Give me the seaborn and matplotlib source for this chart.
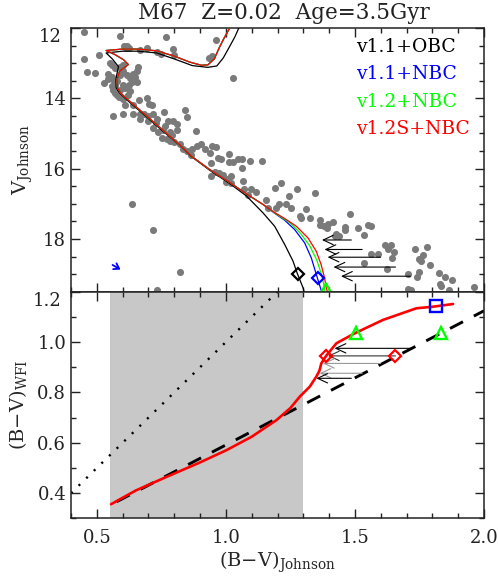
import matplotlib
matplotlib.use("Agg")
import matplotlib.pyplot as plt
import seaborn as sns
import numpy as np
import pandas as pd
from matplotlib.ticker import MultipleLocator, FuncFormatter

# ---------------- data ----------------
# M67 observed stars (B-V Johnson, V Johnson)
star_x = [0.452, 0.590, 0.767, 0.960, 0.449, 0.507, 0.461, 0.494, 0.528, 0.561, 1.028,
          0.607, 0.618, 0.612, 0.625, 0.696, 0.735, 0.748, 0.797, 0.799, 0.936, 0.945, 0.668,
          0.552, 0.588, 0.603, 0.590, 0.616, 0.629, 0.661, 0.655, 0.558, 0.545, 0.565, 0.580,
          0.558, 0.562, 0.571, 0.590, 0.610, 0.623, 0.635, 0.655, 0.577, 0.603, 0.610, 0.642,
          0.664, 0.696, 0.704, 0.713, 0.603, 0.642, 0.668, 0.683, 0.700, 0.719, 0.700, 0.668,
          0.732, 0.760, 0.777, 0.797, 0.809, 0.842, 0.848, 0.758, 0.784, 0.809, 0.884, 0.738,
          0.719, 0.751, 0.771, 0.784, 0.799, 0.822, 0.835, 0.848, 0.863, 0.887, 0.919, 0.938,
          0.945, 0.960, 1.013, 0.970, 1.048, 1.061,
          0.983, 1.013, 1.026, 1.093, 1.138, 1.063, 0.944, 0.941, 0.957, 0.973, 0.987, 1.005,
          1.018, 1.000, 1.018, 1.067, 1.069, 1.099, 1.116, 1.086, 1.157, 1.189, 1.212, 1.276,
          1.245, 1.206, 1.234, 1.163, 1.196, 1.346, 1.309, 1.251,
          0.635, 0.717, 0.822, 0.735,
          1.286, 1.292, 1.324, 1.363, 1.363, 1.380, 1.395, 1.415, 1.393, 1.482, 1.460, 1.462,
          1.511, 1.537, 1.550, 1.563, 1.427, 1.438, 1.421, 1.618, 1.640, 1.627, 1.653, 1.643,
          1.563, 1.588, 1.537, 1.625, 1.733, 1.778, 1.765, 1.750, 1.756, 1.792, 1.704, 1.750,
          1.741, 1.824, 1.849, 1.876, 1.831, 1.833, 1.866, 1.962, 1.704, 1.717,
          0.560, 0.572, 0.600, 0.640, 0.648, 0.570, 0.600, 0.628, 0.545, 0.585, 0.620,
          0.730, 0.765, 0.790, 0.870, 0.905]
star_V = [12.12, 12.24, 12.26, 12.35, 12.88, 12.76, 13.26, 13.29, 13.56, 14.49, 13.42,
          12.50, 12.50, 12.56, 12.56, 12.57, 12.69, 12.74, 12.59, 12.78, 12.85, 12.81, 12.62,
          13.00, 13.12, 13.21, 13.33, 13.33, 13.42, 13.12, 13.23, 13.40, 13.44, 13.52, 13.50,
          13.66, 13.75, 13.85, 13.75, 13.70, 13.61, 13.54, 13.54, 13.91, 14.01, 14.18, 14.18,
          14.04, 13.99, 14.16, 14.18, 14.46, 14.46, 14.46, 14.44, 14.51, 14.46, 14.65, 14.60,
          14.58, 14.39, 14.65, 14.65, 14.73, 14.32, 14.54, 14.89, 14.95, 14.89, 14.94, 14.95,
          14.84, 15.13, 15.17, 15.22, 15.24, 15.31, 15.43, 15.50, 15.60, 15.36, 15.43, 15.55,
          15.36, 15.38, 15.58, 15.69, 15.74, 15.74,
          15.72, 15.82, 15.82, 15.79, 15.79, 15.98, 15.85, 16.20, 16.10, 16.12, 16.17, 16.29,
          16.21, 16.39, 16.40, 16.36, 16.59, 16.58, 16.67, 16.74, 16.88, 16.55, 16.40, 16.58,
          16.78, 17.00, 17.02, 17.11, 17.11, 16.69, 17.14, 17.13,
          17.00, 17.76, 18.94, 19.46,
          17.35, 17.40, 17.40, 17.45, 17.61, 17.64, 17.57, 17.52, 17.70, 17.30, 17.66, 17.76,
          17.70, 17.89, 17.59, 17.64, 17.87, 17.93, 17.91, 18.16, 18.18, 18.30, 18.37, 18.54,
          18.42, 18.42, 18.68, 18.85, 18.30, 18.23, 18.46, 18.58, 18.63, 18.75, 19.01, 18.93,
          19.08, 18.96, 19.08, 19.18, 19.27, 19.34, 19.44, 19.37, 19.43, 19.46,
          13.05, 13.15, 13.05, 13.30, 13.40, 13.62, 13.62, 13.78, 13.30, 13.95, 13.92,
          14.70, 14.80, 15.05, 15.45, 15.30]

# Isochrones (B-V, V): shared bright part for NBC models
iso_upper_x = [1.144, 1.080, 1.016, 0.938, 0.867, 0.822, 0.758, 0.685, 0.622, 0.592, 0.580,
               0.578, 0.588, 0.622, 0.603, 0.571, 0.536, 0.600, 0.660, 0.732, 0.800, 0.860,
               0.905, 0.930, 0.955, 0.975, 0.990, 1.015, 1.020]
iso_upper_V = [17.02, 16.72, 16.40, 16.03, 15.65, 15.33, 14.92, 14.45, 14.05, 13.85, 13.70,
               13.47, 13.23, 13.04, 12.90, 12.76, 12.64, 12.60, 12.60, 12.65, 12.80, 12.97,
               13.06, 13.05, 12.88, 12.55, 12.33, 12.00, 11.93]
# faint ends of each model
v11nbc_x = [1.373, 1.370, 1.354, 1.331, 1.305, 1.266, 1.228, 1.189]
v11nbc_V = [19.55, 19.48, 19.10, 18.54, 18.11, 17.73, 17.47, 17.27]
v12nbc_x = [1.385, 1.382, 1.370, 1.352, 1.325, 1.290, 1.250, 1.189]
v12nbc_V = [19.55, 19.39, 19.00, 18.60, 18.20, 17.85, 17.55, 17.26]
v12snbc_x = [1.395, 1.389, 1.382, 1.369, 1.350, 1.318, 1.273, 1.228, 1.189]
v12snbc_V = [19.55, 19.39, 19.10, 18.73, 18.35, 17.97, 17.64, 17.42, 17.25]
# v1.1 + OBC full track
v11obc_x = [1.305, 1.299, 1.277, 1.260, 1.228, 1.189, 1.144, 1.080, 1.016, 0.938, 0.867,
            0.822, 0.755, 0.682, 0.617, 0.588, 0.575, 0.574, 0.578, 0.584, 0.560, 0.536,
            0.600, 0.660, 0.732, 0.800, 0.870, 0.930, 0.965, 0.990, 1.015, 1.035, 1.055]
v11obc_V = [19.55, 19.39, 18.99, 18.63, 18.16, 17.64, 17.26, 16.78, 16.43, 16.05, 15.66,
            15.34, 14.93, 14.46, 14.05, 13.85, 13.70, 13.47, 13.30, 13.10, 12.88, 12.71,
            12.66, 12.66, 12.71, 12.88, 13.07, 13.12, 13.08, 12.85, 12.52, 12.25, 11.92]

# special points in the CMD
cmd_mark_x = [1.279, 1.357, 1.389]
cmd_mark_V = [19.01, 19.10, 19.42]

# stars shifted by the colour correction (observed -> corrected)
arr_V = [19.06, 18.80, 18.52, 18.30, 18.03]
arr_x_obs = [1.715, 1.657, 1.599, 1.528, 1.486]
arr_x_iso = [1.446, 1.417, 1.394, 1.382, 1.372]
arr_wfi = [0.975, 0.945, 0.915, 0.876, 0.856]
arr_x_wfi = [1.421, 1.395, 1.376, 1.363, 1.350]
arr_cols = ["black", "#333333", "#999999", "#999999", "black"]

# reddening arrow
redd_x = [0.561, 0.592]
redd_V = [18.74, 18.87]

# colour transformation (Johnson B-V -> WFI B-V)
wfi_x = [0.555, 0.650, 0.771, 0.900, 1.003, 1.100, 1.196, 1.250, 1.286, 1.325, 1.350,
         1.362, 1.370, 1.389, 1.428, 1.500, 1.609, 1.738, 1.800, 1.880]
wfi_y = [0.356, 0.410, 0.465, 0.522, 0.571, 0.624, 0.690, 0.738, 0.783, 0.823, 0.862,
         0.885, 0.916, 0.946, 0.995, 1.035, 1.088, 1.134, 1.140, 1.151]
lin_x = [0.577, 2.0]
lin_y = [0.366, 1.124]
one_x = [0.4, 1.3]
one_y = [0.4, 1.3]
span_x = [0.55, 1.30]
diam_x = [1.389, 1.657]
diam_y = [0.946, 0.944]
sq_x = [1.814]
sq_y = [1.143]
tri_x = [1.503, 1.832]
tri_y = [1.037, 1.037]

legend_labels = ["v1.1+OBC", "v1.1+NBC", "v1.2+NBC", "v1.2S+NBC"]
legend_colors = ["black", "#0000ff", "#00ff00", "#ff0000"]

# ---------------- style ----------------
sns.set_theme(style="ticks")
plt.rcParams["font.family"] = ["DejaVu Serif"]
plt.rcParams["mathtext.fontset"] = "dejavuserif"
plt.rcParams["axes.linewidth"] = 1.1
for a in ("x", "y"):
    plt.rcParams[f"{a}tick.direction"] = "in"
    plt.rcParams[f"{a}tick.major.size"] = 6.5
    plt.rcParams[f"{a}tick.minor.size"] = 3.3
    plt.rcParams[f"{a}tick.major.width"] = 1.0
    plt.rcParams[f"{a}tick.minor.width"] = 1.0
    plt.rcParams[f"{a}tick.labelsize"] = 13
    plt.rcParams[f"{a}tick.color"] = "#222222"

fig = plt.figure(figsize=(4.98, 5.77), dpi=100)
ax1 = fig.add_axes([0.1426, 0.4945, 0.8293, 0.4570])
ax2 = fig.add_axes([0.1426, 0.1017, 0.8293, 0.3928], sharex=ax1)

# ---------------- top panel: CMD ----------------
sns.scatterplot(x=star_x, y=star_V, ax=ax1, color="#7a7a7a", s=26, linewidth=0, zorder=2)

def track(xs, ys, col, ax):
    df = pd.DataFrame({"x": xs, "y": ys})
    sns.lineplot(data=df, x="x", y="y", sort=False, estimator=None, ax=ax,
                 color=col, lw=0.9, zorder=3)

track(v11obc_x, v11obc_V, "black", ax1)
track(v11nbc_x + iso_upper_x, v11nbc_V + iso_upper_V, "#0000ff", ax1)
track(v12nbc_x + iso_upper_x, v12nbc_V + iso_upper_V, "#00ff00", ax1)
track(v12snbc_x + iso_upper_x, v12snbc_V + iso_upper_V, "#ff0000", ax1)

ax1.plot(cmd_mark_x[0], cmd_mark_V[0], marker="D", ms=6, mfc="none", mec="black", mew=1.6, zorder=5)
ax1.plot(cmd_mark_x[1], cmd_mark_V[1], marker="D", ms=6, mfc="none", mec="#0000ff", mew=1.6, zorder=5)
ax1.plot(cmd_mark_x[2], cmd_mark_V[2], marker="^", ms=8, mfc="none", mec="#00ff00", mew=1.6,
         zorder=5, clip_on=False)

for v, xo, xi in zip(arr_V, arr_x_obs, arr_x_iso):
    ax1.annotate("", xy=(xi, v), xytext=(xo, v),
                 arrowprops=dict(arrowstyle="->,head_length=0.6,head_width=0.28",
                                 lw=0.8, color="black", shrinkA=0, shrinkB=0), zorder=4)

ax1.annotate("", xy=(redd_x[1], redd_V[1]), xytext=(redd_x[0], redd_V[0]),
             arrowprops=dict(arrowstyle="->,head_length=0.3,head_width=0.2",
                             lw=1.3, color="#0000ff", shrinkA=0, shrinkB=0))

for i, (lab, col) in enumerate(zip(legend_labels, legend_colors)):
    ax1.text(0.690, 0.928 - i * 0.104, lab, color=col, fontsize=13.5,
             transform=ax1.transAxes, ha="left", va="center")

ax1.set_xlim(0.4, 2.0)
ax1.set_ylim(19.5, 12.0)
ax1.yaxis.set_major_locator(MultipleLocator(2))
ax1.yaxis.set_minor_locator(MultipleLocator(0.5))
ax1.set_ylabel(r"V$_{\rm Johnson}$", fontsize=14, labelpad=6)
ax1.set_xlabel("")
ax1.tick_params(axis="x", which="both", labelbottom=False, top=True)
ax1.tick_params(axis="y", which="both", right=True)

# ---------------- bottom panel: colour transformation ----------------
ax2.axvspan(span_x[0], span_x[1], color="#c8c8c8", lw=0, zorder=0)
sns.lineplot(x=one_x, y=one_y, ax=ax2, color="black", lw=1.7,
             linestyle=(0, (0.9, 3.6)), zorder=2)
sns.lineplot(x=lin_x, y=lin_y, ax=ax2, color="black", lw=2.1,
             linestyle=(0, (5.0, 4.2)), zorder=2)
track_df = pd.DataFrame({"x": wfi_x, "y": wfi_y})
sns.lineplot(data=track_df, x="x", y="y", sort=False, estimator=None, ax=ax2,
             color="#ff0000", lw=1.9, zorder=4)

for yv, xo, xi, c in zip(arr_wfi, arr_x_obs, arr_x_wfi, arr_cols):
    ax2.annotate("", xy=(xi, yv), xytext=(xo, yv),
                 arrowprops=dict(arrowstyle="->,head_length=0.6,head_width=0.28",
                                 lw=0.8, color=c, shrinkA=0, shrinkB=0), zorder=3)

ax2.plot(diam_x, diam_y, ls="none", marker="D", ms=6, mfc="none", mec="#ff0000", mew=1.6, zorder=5)
ax2.plot(sq_x, sq_y, ls="none", marker="s", ms=8, mfc="none", mec="#0000ff", mew=1.7, zorder=5)
ax2.plot(tri_x, tri_y, ls="none", marker="^", ms=9, mfc="none", mec="#00ff00", mew=1.7, zorder=5)

ax2.set_xlim(0.4, 2.0)
ax2.set_ylim(0.3, 1.2)
ax2.xaxis.set_major_locator(MultipleLocator(0.5))
ax2.xaxis.set_minor_locator(MultipleLocator(0.1))
ax2.yaxis.set_minor_locator(MultipleLocator(0.1))
ax2.set_yticks([0.4, 0.6, 0.8, 1.0, 1.2])
ax2.tick_params(axis="both", which="both", top=True, right=True)
ax2.tick_params(axis="x", which="major", pad=8)
ax2.set_xlabel("(B\u2212V)$_{\\rm Johnson}$", fontsize=14, labelpad=2)
ax2.set_ylabel("(B\u2212V)$_{\\rm WFI}$", fontsize=14, labelpad=6)

# top-most labels sit just below their tick (as in the original):
# blank them in the formatter and write them with top alignment
ax1.yaxis.set_major_formatter(FuncFormatter(lambda v, p: "" if abs(v - 12) < 1e-6 else f"{v:.0f}"))
ax2.yaxis.set_major_formatter(FuncFormatter(lambda v, p: "" if abs(v - 1.2) < 1e-6 else f"{v:.1f}"))
ax1.text(-0.022, 12.0, "12", transform=ax1.get_yaxis_transform(), ha="right", va="top",
         fontsize=13, color="#222222")
ax2.text(-0.022, 1.2, "1.2", transform=ax2.get_yaxis_transform(), ha="right", va="top",
         fontsize=13, color="#222222")

for ax in (ax1, ax2):
    for sp in ax.spines.values():
        sp.set_color("#222222")

fig.text(0.570, 0.978, "M67  Z=0.02  Age=3.5Gyr", fontsize=15.5, ha="center", va="center",
         color="#222222")

fig.savefig("out.png", dpi=100)
